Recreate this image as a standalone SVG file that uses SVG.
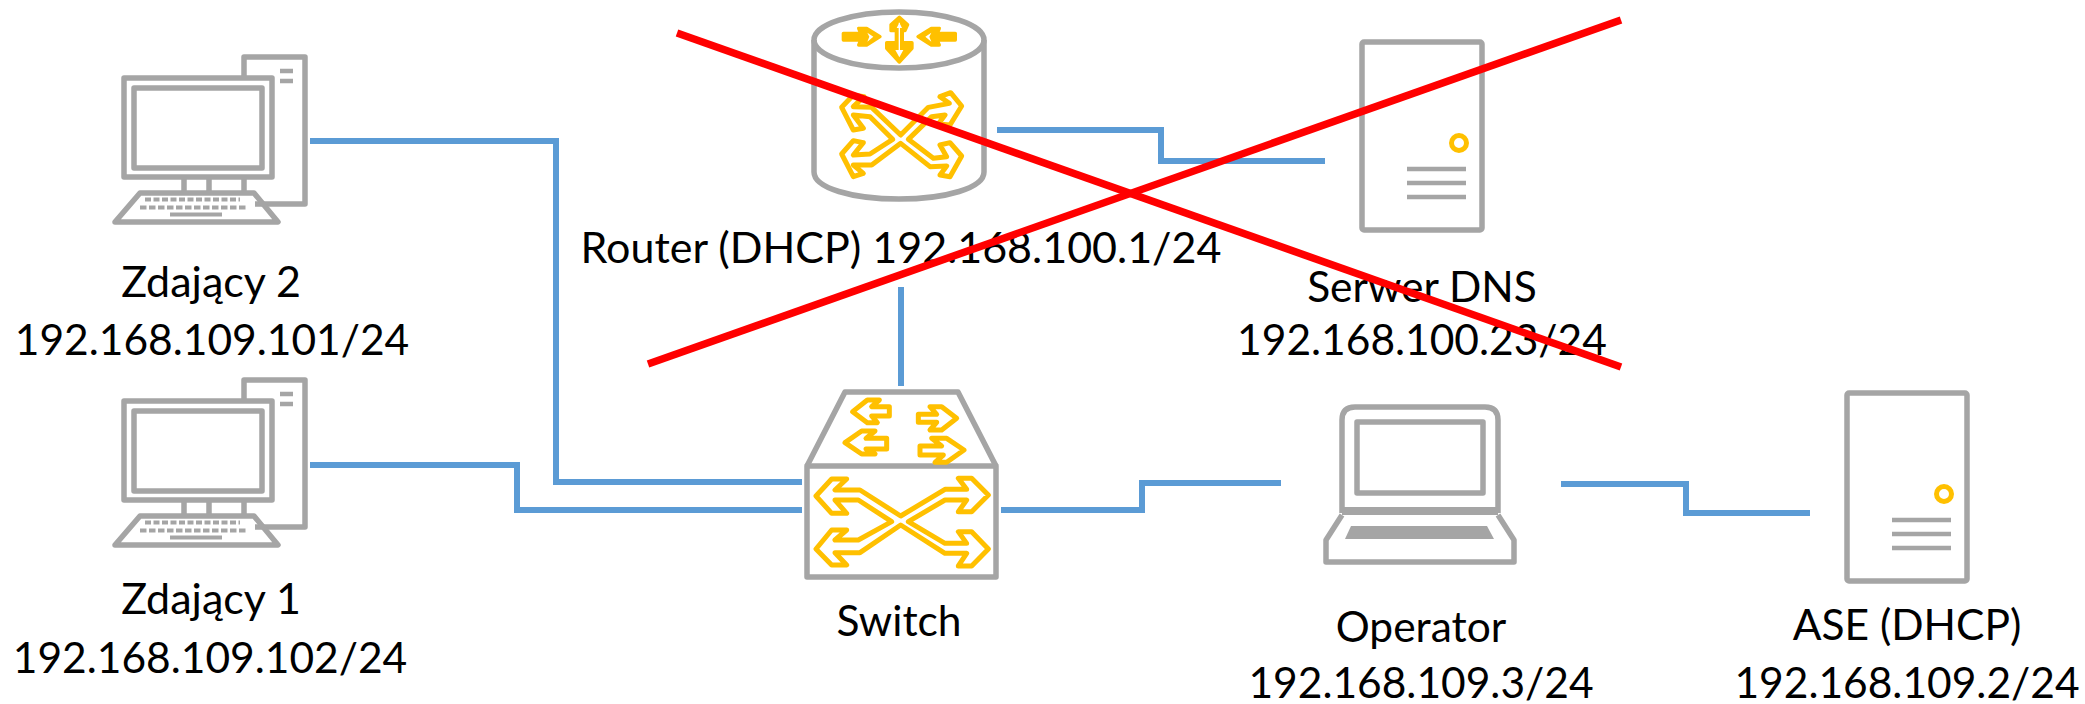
<svg xmlns="http://www.w3.org/2000/svg" xmlns:xlink="http://www.w3.org/1999/xlink" width="2085" height="704" viewBox="0 0 2085 704">
<style>
.g{fill:none;stroke:#a5a5a5;stroke-width:5.500;stroke-linejoin:round}
.gf{fill:#a5a5a5;stroke:none}
.o{fill:#fff;stroke:#ffc000;stroke-width:15;stroke-linejoin:round}
.of{fill:#ffc000;stroke:#ffc000;stroke-width:10;stroke-linejoin:round}
.w{fill:#fff}
.c{fill:none;stroke:#5b9bd5;stroke-width:6}
.x{fill:none;stroke:#ff0000;stroke-width:7.500}
text{font-family:"Lato","Open Sans",sans-serif;font-size:42.500px;fill:#000;text-anchor:middle}
.big{font-size:43px}
</style>
<defs>
<g id="pc">
<path class="g" d="M244 76V57H305V204H255"/>
<rect class="g" x="124" y="78" width="148" height="99"/>
<rect class="g" x="134" y="88" width="128" height="80"/>
<path class="g" d="M184 177V192M209 177V192M244 177V192"/>
<path class="g" d="M140 193H254L278 222H115Z"/>
<path d="M280 71H293M280 81H293" fill="none" stroke="#a5a5a5" stroke-width="4.500"/>
<path d="M145 199.500H240" fill="none" stroke="#a5a5a5" stroke-width="4" stroke-dasharray="6 2.500"/>
<path d="M140 207.500H247" fill="none" stroke="#a5a5a5" stroke-width="4" stroke-dasharray="6.500 2.500"/>
<path d="M170 214.500H222" fill="none" stroke="#a5a5a5" stroke-width="4"/>
</g>
<g id="srv">
<rect class="g" x="1362" y="42" width="120" height="188" rx="2"/>
<circle cx="1459" cy="143" r="7.500" fill="none" stroke="#ffc000" stroke-width="5"/>
<path d="M1407 169H1466M1407 183H1466M1407 197H1466" fill="none" stroke="#a5a5a5" stroke-width="4.500"/>
</g>
</defs>
<g id="connectors">
<path class="c" d="M310 141H556V482H802"/>
<path class="c" d="M310 465H517V510H802"/>
<path class="c" d="M1001 510H1142V483H1281"/>
<path class="c" d="M1561 484H1686V513H1810"/>
<path class="c" d="M997 130H1161V161H1325"/>
<path class="c" d="M901 287V386"/>
</g>
<g id="pc2"><use href="#pc"/></g>
<g id="pc1"><use href="#pc" y="323"/></g>
<g id="router">
<path class="g" d="M814 40V172C814 188 852 199 899 199C946 199 984 188 984 172V40"/>
<ellipse class="g" cx="899" cy="40" rx="85" ry="28"/>
<g transform="translate(790 0) scale(.33333)">
<path class="o" d="M332 405L415 322L478 310L450 290L482 278L515 318L480 375L445 372L465 345L425 350L355 418L430 475L470 470L450 435L480 428L515 468L480 530L450 525L470 498L420 500L332 430L245 495L190 495L220 520L190 530L155 462L190 422L220 428L190 465L240 462L308 418L240 350L190 345L220 385L190 390L155 322L190 285L222 290L190 320L245 322Z"/>
<path class="of" d="M160 100H212L206 85H230L270 110L230 135H206L212 120H160Z"/>
<path class="w" d="M232 98L250 110L232 125L238 110Z"/>
<path class="of" d="M496 100H442L448 85H424L384 110L424 135H448L442 120H496Z"/>
<path class="w" d="M424 98L406 110L424 125L418 110Z"/>
<path class="of" d="M328 52L353 74L345 92H337V128H366V145L328 186L290 145V128H319V92H303V74Z"/>
<path class="w" d="M326 68H330V72L336 84H330V150H340L328 172L316 150H326V84H320L326 72Z"/>
</g>
</g>
<g id="server-dns"><use href="#srv"/></g>
<g id="switch">
<path class="g" d="M807 466L845 392H958L996 466"/>
<rect class="g" x="807" y="466" width="189" height="111"/>
<g transform="translate(790 380) scale(.33333)">
<path class="o" d="M332 408L465 328H530L505 295H545L595 345L545 395H505L530 360H465L355 425L465 490H530L505 455H545L595 507L545 558H505L530 520H465L332 435L210 518H135L170 555H125L78 507L125 450H170L135 480H205L305 425L205 360H135L170 400H125L78 348L125 297H170L135 330H210Z"/>
<path class="o" d="M188 95L232 60H268L245 80H298V108H245L262 128H232Z"/>
<path class="o" d="M165 188L215 153H255L228 175H290V207H228L255 222H215Z"/>
<path class="o" d="M500 115L455 80H420L440 103H385V127H440L420 150H455Z"/>
<path class="o" d="M522 210L470 175H425L455 198H390V225H460L435 247H470Z"/>
</g>
</g>
<g id="operator">
<path class="g" d="M1342 513V420Q1342 407 1355 407H1485Q1498 407 1498 420V513"/>
<rect class="g" x="1357" y="422" width="126" height="71"/>
<rect class="gf" x="1342" y="507" width="156" height="8"/>
<path class="g" d="M1342 515L1326 540V562H1514V540L1498 515"/>
<path class="gf" d="M1351 526H1487L1494 539H1345Z"/>
</g>
<g id="ase"><use href="#srv" x="485" y="351"/></g>
<g id="labels">
<text x="211" y="297" class="big">Zdający 2</text>
<text x="212" y="355">192.168.109.101/24</text>
<text x="211" y="614" class="big">Zdający 1</text>
<text x="210" y="673">192.168.109.102/24</text>
<text x="901" y="263" class="big">Router (DHCP) 192.168.100.1/24</text>
<text x="1422" y="302">Serwer DNS</text>
<text x="1422" y="355">192.168.100.23/24</text>
<text x="899" y="636">Switch</text>
<text x="1421" y="642">Operator</text>
<text x="1421" y="698">192.168.109.3/24</text>
<text x="1907" y="640">ASE (DHCP)</text>
<text x="1907" y="698">192.168.109.2/24</text>
</g>
<g id="cross">
<path class="x" d="M677 33L1621 367"/>
<path class="x" d="M1621 20L648 364"/>
</g>
</svg>
